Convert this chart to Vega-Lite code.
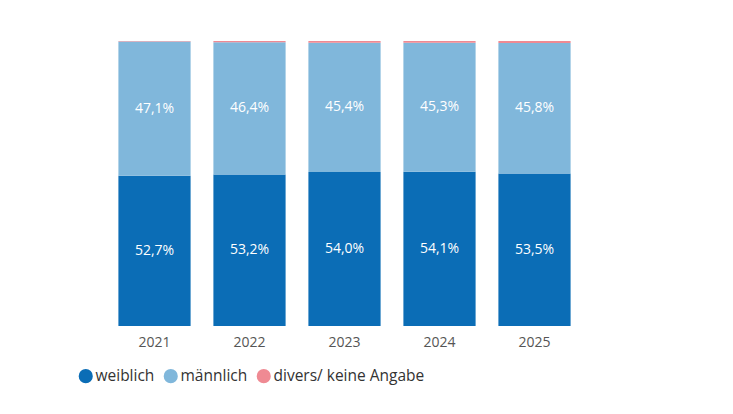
{
  "$schema": "https://vega.github.io/schema/vega-lite/v6.json",
  "autosize": "none",
  "width": 475,
  "height": 285,
  "padding": {"left": 107, "top": 41, "right": 151, "bottom": 88},
  "background": "white",
  "config": {"view": {"stroke": null}},
  "data": {
    "values": [
      {"year": "2021", "group": "weiblich", "order": 1, "value": 52.7},
      {"year": "2021", "group": "männlich", "order": 2, "value": 47.1},
      {"year": "2021", "group": "divers/ keine Angabe", "order": 3, "value": 0.2},
      {"year": "2022", "group": "weiblich", "order": 1, "value": 53.2},
      {"year": "2022", "group": "männlich", "order": 2, "value": 46.4},
      {"year": "2022", "group": "divers/ keine Angabe", "order": 3, "value": 0.4},
      {"year": "2023", "group": "weiblich", "order": 1, "value": 54.0},
      {"year": "2023", "group": "männlich", "order": 2, "value": 45.4},
      {"year": "2023", "group": "divers/ keine Angabe", "order": 3, "value": 0.6},
      {"year": "2024", "group": "weiblich", "order": 1, "value": 54.1},
      {"year": "2024", "group": "männlich", "order": 2, "value": 45.3},
      {"year": "2024", "group": "divers/ keine Angabe", "order": 3, "value": 0.6},
      {"year": "2025", "group": "weiblich", "order": 1, "value": 53.5},
      {"year": "2025", "group": "männlich", "order": 2, "value": 45.8},
      {"year": "2025", "group": "divers/ keine Angabe", "order": 3, "value": 0.7}
    ]
  },
  "transform": [
    {"stack": "value", "groupby": ["year"], "sort": [{"field": "order"}], "as": ["v0", "v1"]},
    {"calculate": "(datum.v0 + datum.v1) / 2", "as": "mid"},
    {"calculate": "replace(format(datum.value, '.1f'), '.', ',') + '%'", "as": "label"}
  ],
  "encoding": {
    "x": {
      "field": "year",
      "type": "nominal",
      "title": null,
      "scale": {"paddingInner": 0.24, "paddingOuter": 0.12},
      "axis": {
        "domain": false,
        "ticks": false,
        "labelAngle": 0,
        "labelPadding": 9,
        "labelFontSize": 14,
        "labelFont": "Open Sans",
        "labelColor": "#555555"
      }
    }
  },
  "layer": [
    {
      "mark": {"type": "bar"},
      "encoding": {
        "y": {"field": "v0", "type": "quantitative", "scale": {"domain": [0, 100]}, "axis": null},
        "y2": {"field": "v1"},
        "color": {
          "field": "group",
          "type": "nominal",
          "sort": ["weiblich", "männlich", "divers/ keine Angabe"],
          "scale": {
            "domain": ["weiblich", "männlich", "divers/ keine Angabe"],
            "range": ["#0b6db6", "#80b7db", "#ef8a93"]
          },
          "legend": {
            "title": null,
            "orient": "none",
            "direction": "horizontal",
            "legendX": -29,
            "legendY": 327,
            "symbolType": "circle",
            "symbolSize": 200,
            "symbolStrokeWidth": 0,
            "labelFontSize": 15.5,
            "labelFont": "Open Sans",
            "labelColor": "#333333",
            "labelOffset": 2,
            "columnPadding": 8
          }
        }
      }
    },
    {
      "transform": [{"filter": "datum.value > 5"}],
      "mark": {"type": "text", "color": "white", "fontSize": 14, "font": "Open Sans"},
      "encoding": {
        "y": {"field": "mid", "type": "quantitative", "scale": {"domain": [0, 100]}},
        "text": {"field": "label", "type": "nominal"}
      }
    }
  ]
}
